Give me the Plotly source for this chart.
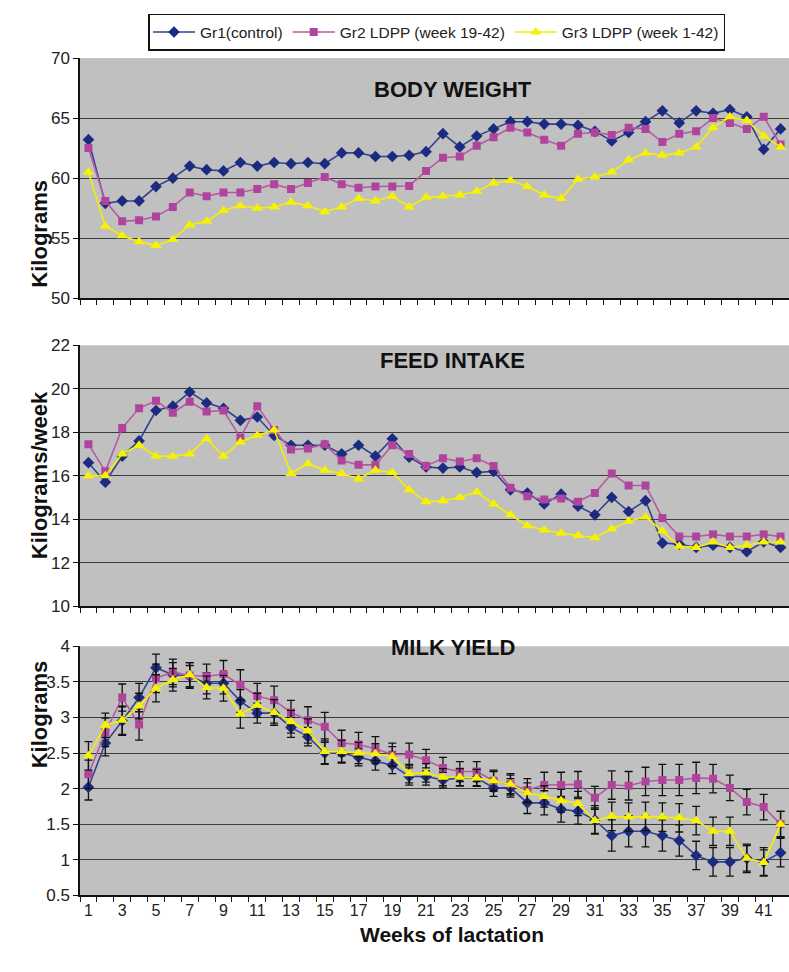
import plotly.graph_objects as go

weeks = list(range(1, 43))

series_names = ["Gr1(control)", "Gr2 LDPP (week 19-42)", "Gr3 LDPP (week 1-42)"]

# Body weight (kg)
bw_gr1 = [63.2, 57.9, 58.1, 58.1, 59.3, 60.0, 61.0, 60.7, 60.6, 61.3, 61.0, 61.3, 61.2, 61.3, 61.2,
          62.1, 62.1, 61.8, 61.8, 61.9, 62.2, 63.7, 62.6, 63.5, 64.1, 64.7, 64.7, 64.5, 64.5, 64.4,
          63.9, 63.1, 63.8, 64.7, 65.6, 64.6, 65.6, 65.4, 65.7, 65.1, 62.4, 64.1]
bw_gr2 = [62.5, 58.1, 56.4, 56.5, 56.8, 57.6, 58.8, 58.5, 58.8, 58.8, 59.1, 59.5, 59.1, 59.6, 60.1,
          59.5, 59.2, 59.3, 59.3, 59.35, 60.6, 61.7, 61.8, 62.7, 63.4, 64.2, 63.8, 63.2, 62.7, 63.7,
          63.8, 63.6, 64.2, 64.1, 63.0, 63.7, 63.9, 65.0, 64.6, 64.1, 65.1, 62.8]
bw_gr3 = [60.5, 56.0, 55.2, 54.7, 54.4, 54.9, 56.1, 56.4, 57.3, 57.7, 57.5, 57.6, 58.0, 57.7, 57.2,
          57.6, 58.3, 58.1, 58.5, 57.6, 58.4, 58.5, 58.6, 58.9, 59.6, 59.8, 59.3, 58.6, 58.3, 59.9,
          60.1, 60.5, 61.5, 62.1, 61.9, 62.1, 62.6, 64.2, 65.1, 64.8, 63.5, 62.6]

# Feed intake (kg/week)
fi_gr1 = [16.6, 15.7, 16.9, 17.6, 19.0, 19.2, 19.85, 19.35, 19.1, 18.55, 18.7, 17.85, 17.4, 17.4,
          17.4, 17.0, 17.4, 16.9, 17.7, 16.85, 16.4, 16.35, 16.4, 16.15, 16.2, 15.35, 15.2, 14.7,
          15.15, 14.6, 14.2, 15.0, 14.35, 14.85, 12.9, 12.85, 12.7, 12.8, 12.7, 12.5, 12.95, 12.7]
fi_gr2 = [17.45, 16.2, 18.2, 19.1, 19.45, 18.9, 19.4, 18.95, 19.0, 17.75, 19.2, 18.1, 17.2, 17.25,
          17.45, 16.7, 16.5, 16.5, 17.4, 17.0, 16.45, 16.8, 16.65, 16.8, 16.45, 15.45, 15.05, 14.9,
          14.95, 14.8, 15.2, 16.1, 15.55, 15.55, 14.05, 13.2, 13.2, 13.3, 13.2, 13.2, 13.3, 13.2]
fi_gr3 = [16.0, 16.0, 17.0, 17.4, 16.9, 16.9, 17.0, 17.7, 16.9, 17.55, 17.85, 18.1, 16.1, 16.55,
          16.25, 16.1, 15.85, 16.25, 16.15, 15.35, 14.8, 14.85, 15.0, 15.25, 14.7, 14.2, 13.7, 13.5,
          13.35, 13.25, 13.15, 13.55, 13.9, 14.1, 13.45, 12.75, 12.7, 12.95, 12.7, 12.8, 12.95, 12.95]

# Milk yield (kg) with standard errors
my_gr1 = [2.02, 2.64, 2.95, 3.28, 3.70, 3.60, 3.58, 3.48, 3.48, 3.23, 3.06, 3.06, 2.86, 2.73, 2.50,
          2.50, 2.44, 2.39, 2.33, 2.17, 2.17, 2.12, 2.15, 2.15, 2.01, 2.01, 1.80, 1.80, 1.71, 1.68,
          1.56, 1.34, 1.40, 1.40, 1.34, 1.27, 1.06, 0.97, 0.97, 1.02, 0.97, 1.10]
my_gr2 = [2.20, 2.79, 3.28, 2.90, 3.55, 3.64, 3.59, 3.58, 3.61, 3.46, 3.30, 3.24, 3.07, 2.96, 2.87,
          2.64, 2.62, 2.56, 2.48, 2.48, 2.40, 2.29, 2.24, 2.24, 2.11, 2.06, 1.98, 2.05, 2.05, 2.06,
          1.87, 2.05, 2.04, 2.10, 2.12, 2.12, 2.15, 2.14, 2.01, 1.81, 1.74, 1.50]
my_gr3 = [2.46, 2.89, 2.96, 3.16, 3.41, 3.53, 3.60, 3.42, 3.41, 3.05, 3.17, 3.07, 2.94, 2.81, 2.52,
          2.52, 2.50, 2.49, 2.45, 2.21, 2.22, 2.16, 2.16, 2.15, 2.11, 2.06, 1.94, 1.89, 1.83, 1.79,
          1.55, 1.61, 1.60, 1.61, 1.60, 1.59, 1.55, 1.40, 1.40, 1.02, 0.96, 1.50]
my_gr1_se = [0.18, 0.18, 0.20, 0.20, 0.19, 0.17, 0.15, 0.15, 0.15, 0.16, 0.14, 0.14, 0.14, 0.13, 0.15,
             0.13, 0.12, 0.13, 0.12, 0.12, 0.12, 0.11, 0.11, 0.11, 0.12, 0.13, 0.15, 0.17, 0.18, 0.18,
             0.20, 0.22, 0.22, 0.22, 0.22, 0.22, 0.20, 0.20, 0.20, 0.20, 0.20, 0.20]
my_gr2_se = [0.20, 0.20, 0.19, 0.22, 0.20, 0.18, 0.18, 0.17, 0.19, 0.21, 0.18, 0.20, 0.17, 0.19, 0.20,
             0.18, 0.17, 0.17, 0.16, 0.16, 0.15, 0.15, 0.14, 0.14, 0.15, 0.15, 0.16, 0.18, 0.18, 0.18,
             0.16, 0.20, 0.20, 0.20, 0.22, 0.22, 0.22, 0.20, 0.18, 0.18, 0.18, 0.18]
my_gr3_se = [0.20, 0.17, 0.20, 0.18, 0.19, 0.16, 0.17, 0.16, 0.18, 0.20, 0.17, 0.18, 0.16, 0.17, 0.18,
             0.16, 0.15, 0.14, 0.14, 0.13, 0.13, 0.12, 0.12, 0.12, 0.13, 0.13, 0.14, 0.15, 0.16, 0.17,
             0.18, 0.20, 0.20, 0.20, 0.20, 0.20, 0.20, 0.20, 0.20, 0.18, 0.18, 0.18]

x_tick_labels = [str(w) for w in range(1, 42, 2)]

colors = ["#1C2A80", "#B0449C", "#F6F200"]
line_colors = ["#34428F", "#B65AA6", "#F4F000"]
symbols = ["diamond", "square", "triangle-up"]
sizes = [9, 8, 10]

FONT = "Liberation Sans"
L_PX, W_PX, H_PX = 80, 789, 972


def ydom(top_px, bottom_px):
    return [1 - bottom_px / H_PX, 1 - top_px / H_PX]


def xpaper(px):
    return (px - L_PX) / (W_PX - L_PX)


def ypaper(px):
    return 1 - px / H_PX


fig = go.Figure()

panels = [
    ([bw_gr1, bw_gr2, bw_gr3], None, "x", "y"),
    ([fi_gr1, fi_gr2, fi_gr3], None, "x2", "y2"),
    ([my_gr1, my_gr2, my_gr3], [my_gr1_se, my_gr2_se, my_gr3_se], "x3", "y3"),
]

for p_idx, (data, errs, xa, ya) in enumerate(panels):
    for s in range(3):
        kw = {}
        if errs is not None:
            kw["error_y"] = dict(type="data", array=errs[s], visible=True,
                                 color="#111111", thickness=1.3, width=4)
        fig.add_trace(go.Scatter(
            x=weeks, y=data[s], mode="lines+markers", name=series_names[s],
            legendgroup=series_names[s], showlegend=(p_idx == 0),
            line=dict(color=line_colors[s], width=1.6),
            marker=dict(symbol=symbols[s], size=sizes[s], color=colors[s],
                        line=dict(width=0)),
            xaxis=xa, yaxis=ya, **kw))

xcommon = dict(range=[0.5, 42.5], showgrid=False, zeroline=False,
               showline=True, linecolor="#111111", linewidth=1.5,
               tickmode="array", tickvals=list(range(1, 42, 2)), ticktext=x_tick_labels,
               ticks="", tickfont=dict(family=FONT, size=16, color="#222222"),
               minor=dict(tick0=0.5, dtick=1, ticks="outside", ticklen=5,
                          tickcolor="#111111", tickwidth=1.2, showgrid=False))

ycommon = dict(showgrid=True, gridcolor="#3C3C3C", gridwidth=1, zeroline=False,
               showline=True, linecolor="#111111", linewidth=1.5,
               ticks="outside", ticklen=5, tickcolor="#111111", tickwidth=1.2,
               tickfont=dict(family=FONT, size=17, color="#222222"))

fig.update_layout(
    width=W_PX, height=H_PX,
    margin=dict(l=L_PX, r=0, t=0, b=0),
    paper_bgcolor="white", plot_bgcolor="#C0C0C0",
    xaxis=dict(xcommon, anchor="y", showticklabels=False),
    xaxis2=dict(xcommon, anchor="y2", showticklabels=False),
    xaxis3=dict(xcommon, anchor="y3", showticklabels=True),
    yaxis=dict(ycommon, domain=ydom(50, 295), range=[50, 70], dtick=5, anchor="x"),
    yaxis2=dict(ycommon, domain=ydom(343, 609), range=[10, 22], dtick=2, anchor="x2"),
    yaxis3=dict(ycommon, domain=ydom(650, 904), range=[0.5, 4], dtick=0.5, anchor="x3"),
    legend=dict(orientation="h", x=xpaper(148), y=ypaper(5), xanchor="left", yanchor="top",
                bordercolor="#111111", borderwidth=1.5, bgcolor="white",
                font=dict(family=FONT, size=15.5, color="#222222"),
                itemwidth=42, tracegroupgap=0),
    showlegend=True,
)

titles = [("BODY WEIGHT", 67), ("FEED INTAKE", 358), ("MILK YIELD", 666)]
for text, ypx in titles:
    fig.add_annotation(text=f"<b>{text}</b>", xref="paper", yref="paper",
                       x=xpaper(453), y=ypaper(ypx), showarrow=False,
                       font=dict(family=FONT, size=22, color="#111111"))

ytitles = [("Kilograms", (50 + 295) / 2), ("Kilograms/week", (343 + 609) / 2),
           ("Kilograms", (650 + 904) / 2)]
for text, ypx in ytitles:
    fig.add_annotation(text=f"<b>{text}</b>", xref="paper", yref="paper",
                       x=xpaper(25), y=ypaper(ypx), showarrow=False, textangle=-90,
                       font=dict(family=FONT, size=22, color="#111111"))

fig.add_annotation(text="<b>Weeks of lactation</b>", xref="paper", yref="paper",
                   x=xpaper(452), y=ypaper(958), showarrow=False,
                   font=dict(family=FONT, size=21, color="#111111"))

fig.write_html("out.html")
